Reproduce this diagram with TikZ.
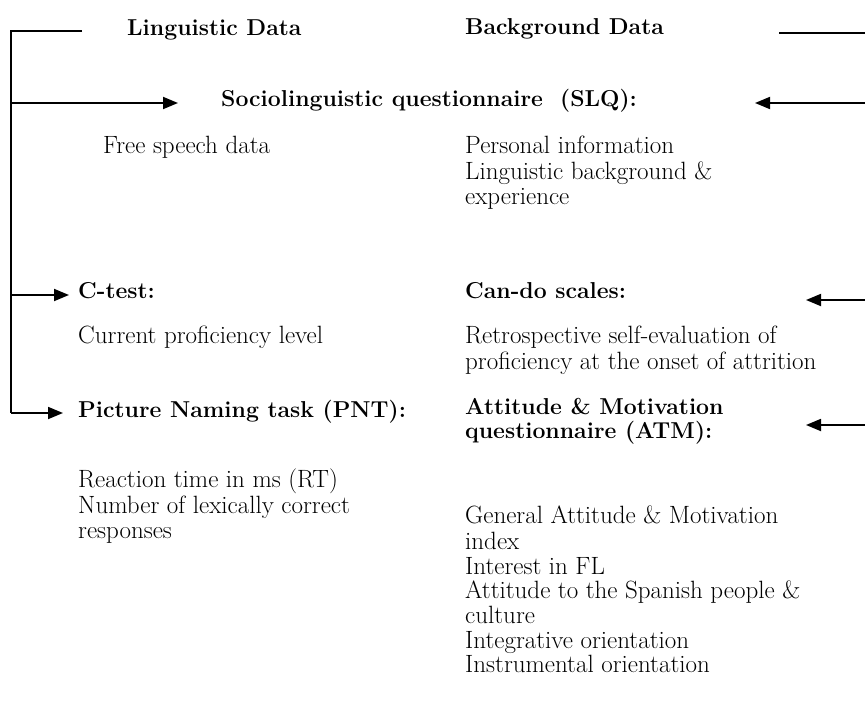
\documentclass[tikz,border=0pt]{standalone}
\usepackage{tikz}
\usetikzlibrary{arrows.meta,positioning}
\newcommand{\txtsize}{\fontsize{25}{24.7}\selectfont}
\newcommand{\hdsize}{\fontsize{23}{24.7}\selectfont}
\tikzset{
  link/.style={-{Triangle[length=15pt,width=12pt]},line width=1.8pt},
  rule/.style={line width=1.8pt},
  item/.style={anchor=north west,yshift=17.29pt,inner sep=0pt,align=left,font=\txtsize},
  head/.style={item,font=\hdsize\bfseries}
}

\begin{document}
\begin{tikzpicture}[x=1pt,y=-1pt]
  \useasboundingbox (0,0) rectangle (865,701);
  % column titles
  \node[head] (ling) at (127,35) {\strut Linguistic Data};
  \node[head] (back) at (465,34) {\strut Background Data};
  % headings
  \node[head] (slq) at (221,106) {\strut Sociolinguistic questionnaire\ \ (SLQ):};
  \node[head] (ctest) at (78,298) {\strut C-test:};
  \node[head] (cando) at (465,298) {\strut Can-do scales:};
  \node[head] (pnt) at (78,417) {\strut Picture Naming task (PNT):};
  \node[head] (atm) at (465,414) {\strut Attitude \& Motivation\\questionnaire (ATM):};
  % measures
  \node[item] (free) at (103,153) {\strut Free speech data};
  \node[item] (pers) at (465,153) {\strut Personal information\\Linguistic background \&\\experience};
  \node[item] (prof) at (78,343) {\strut Current proficiency level};
  \node[item] (retro) at (465,343) {\strut Retrospective self-evaluation of\\proficiency at the onset of attrition};
  \node[item] (rt) at (78,486) {\strut Reaction time in ms (RT)\\Number of lexically correct\\responses};
  \node[item] (gen) at (465,523) {\strut General Attitude \& Motivation\\index\\Interest in FL\\Attitude to the Spanish people \&\\culture\\Integrative orientation\\Instrumental orientation};
  % left bracket
  \coordinate (ltop) at (11,31);
  \coordinate (lend) at (82,31);
  \coordinate (lslq) at (11,103);
  \coordinate (lcte) at (11,295);
  \coordinate (lpnt) at (11,413);
  \draw[rule] (lend) -- (ltop) -- (lpnt);
  \draw[link,shorten >=43pt] (lslq) -- (slq.west |- lslq);
  \draw[link,shorten >=9pt] (lcte) -- (ctest.west |- lcte);
  \draw[link,shorten >=15pt] (lpnt) -- (pnt.west |- lpnt);
  % right side
  \coordinate (rtop) at (865,33);
  \coordinate (rbeg) at (779,33);
  \draw[rule] (rbeg) -- (rtop);
  \coordinate (rslq) at (865,103);
  \coordinate (rcan) at (865,300);
  \coordinate (ratm) at (865,425);
  \draw[link] (rslq) -- (755,103);
  \draw[link] (rcan) -- (806,300);
  \draw[link] (ratm) -- (806,425);
\end{tikzpicture}
\end{document}
